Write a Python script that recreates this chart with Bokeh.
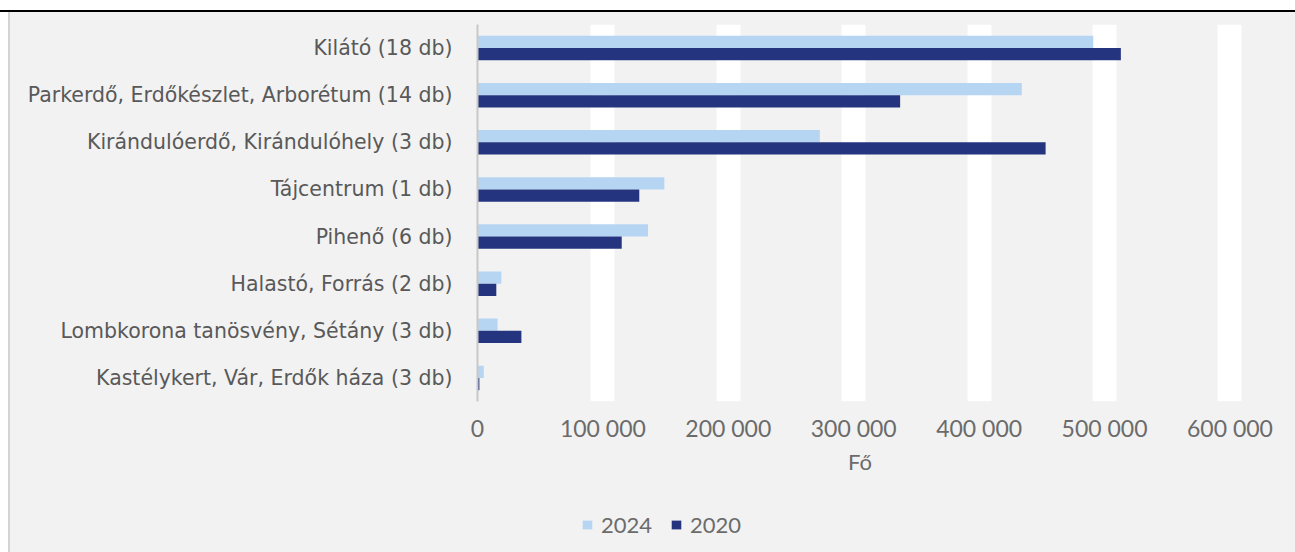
from bokeh.plotting import figure
from bokeh.models import ColumnDataSource, FactorRange, Range1d, FixedTicker, Legend, LegendItem, Div, Spacer, CustomJSTickFormatter
from bokeh.layouts import column, row
from bokeh.transform import dodge
from bokeh.embed import file_html
from bokeh.resources import INLINE

categories = [
    "Kilátó (18 db)",
    "Parkerdő, Erdőkészlet, Arborétum (14 db)",
    "Kirándulóerdő, Kirándulóhely (3 db)",
    "Tájcentrum (1 db)",
    "Pihenő (6 db)",
    "Halastó, Forrás (2 db)",
    "Lombkorona tanösvény, Sétány (3 db)",
    "Kastélykert, Vár, Erdők háza (3 db)",
]
values_2024 = [491000, 434000, 273000, 149000, 136000, 19000, 16000, 5000]
values_2020 = [513000, 337000, 453000, 129000, 115000, 15000, 35000, 1500]
x_ticks = [0, 100000, 200000, 300000, 400000, 500000, 600000]
series_names = ["2024", "2020"]
series_colors = ["#B6D5F3", "#25347F"]
axis_title = "Fő"

source = ColumnDataSource(dict(cat=categories, v2024=values_2024, v2020=values_2020))

GRAY = "#F2F2F2"
TXT = "#6B6B6B"
NUMFONT = "Lato"
p = figure(
    width=1285, height=478,
    y_range=FactorRange(factors=list(reversed(categories))),
    x_range=Range1d(0, 610000),
    output_backend="svg", toolbar_location=None,
    min_border_left=467, min_border_right=53, min_border_top=12, min_border_bottom=89,
    background_fill_color=GRAY, border_fill_color=GRAY, outline_line_color=None,
    margin=0,
)

p.hbar(y=dodge("cat", 0.13, range=p.y_range), right="v2024", left=0, height=0.26,
       source=source, color=series_colors[0], line_color=None)
p.hbar(y=dodge("cat", -0.13, range=p.y_range), right="v2020", left=0, height=0.26,
       source=source, color=series_colors[1], line_color=None)

p.ygrid.grid_line_color = None
p.xgrid.ticker = FixedTicker(ticks=x_ticks[1:])
p.xgrid.grid_line_color = "white"
p.xgrid.grid_line_width = 24
p.xgrid.level = "underlay"

p.xaxis.ticker = FixedTicker(ticks=x_ticks)
p.xaxis.formatter = CustomJSTickFormatter(code="""
    return tick.toFixed(0).replace(/\\B(?=(\\d{3})+(?!\\d))/g, ' ');
""")
p.xaxis.axis_line_color = None
p.xaxis.major_tick_line_color = None
p.xaxis.minor_tick_line_color = None
p.xaxis.major_tick_out = 0
p.xaxis.major_label_standoff = 12
p.xaxis.major_label_text_font = NUMFONT
p.xaxis.major_label_text_font_size = "23px"
p.xaxis.major_label_text_color = TXT
p.xaxis.axis_label = axis_title
p.xaxis.axis_label_text_font = NUMFONT
p.xaxis.axis_label_text_font_size = "22px"
p.xaxis.axis_label_text_font_style = "normal"
p.xaxis.axis_label_text_color = TXT
p.xaxis.axis_label_standoff = 3

p.yaxis.axis_line_color = "#C8C8C8"
p.yaxis.axis_line_width = 2
p.yaxis.major_tick_line_color = None
p.yaxis.minor_tick_line_color = None
p.yaxis.major_tick_out = 0
p.yaxis.major_label_standoff = 25
p.yaxis.major_label_text_font = "DejaVu Sans"
p.yaxis.major_label_text_font_size = "20.5px"
p.yaxis.major_label_text_color = "#595959"

# legend strip below the chart (its frame is aligned with the chart frame)
lg = figure(
    width=1285, height=62,
    y_range=FactorRange(factors=list(reversed(categories))), x_range=Range1d(0, 1),
    output_backend="svg", toolbar_location=None,
    min_border=0, background_fill_color=None, border_fill_color=GRAY,
    outline_line_color=None, margin=0,
)
lg.axis.visible = False
lg.grid.visible = False
lr1 = lg.hbar(y="cat", right="v2024", height=0.26, source=source,
              color=series_colors[0], line_color=None, visible=False)
lr2 = lg.hbar(y="cat", right="v2020", height=0.26, source=source,
              color=series_colors[1], line_color=None, visible=False)
legend = Legend(
    items=[LegendItem(label=series_names[0], renderers=[lr1]),
           LegendItem(label=series_names[1], renderers=[lr2])],
    orientation="horizontal", location=(104, 14),
    background_fill_alpha=0, border_line_color=None,
    glyph_width=12, glyph_height=11, label_standoff=8, spacing=18,
    padding=0, margin=0,
    label_text_font=NUMFONT, label_text_font_size="22px",
    label_text_color=TXT,
)
lg.add_layout(legend, "center")

top = Div(text="", width=1295, height=12, margin=0,
          styles={"border-bottom": "2px solid black", "box-sizing": "border-box"})
left_pad = Spacer(width=10, height=540, margin=0,
                  styles={"border-right": "2px solid #D4D4D4", "box-sizing": "border-box"})

chart = column(p, lg, spacing=0, styles={"background-color": GRAY})
layout = column(top, row(left_pad, chart, spacing=0), spacing=0)
open("out.html", "w").write(file_html(layout, INLINE))
